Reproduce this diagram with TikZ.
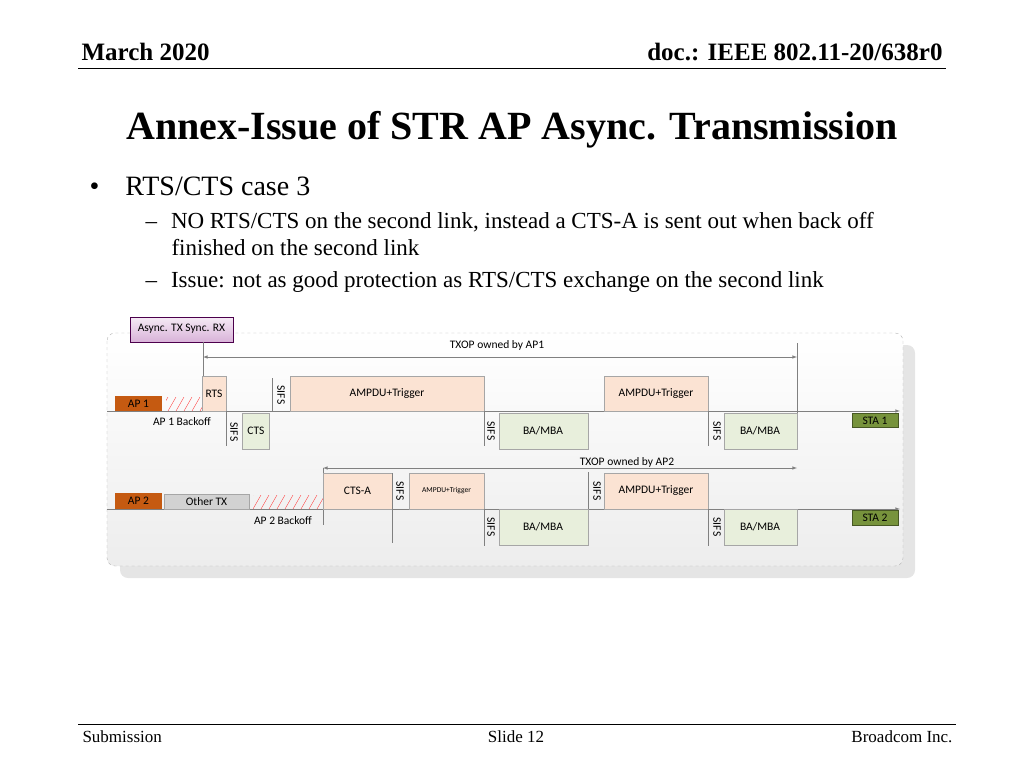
\documentclass[tikz,border=0pt]{standalone}
\usepackage{fontspec}
\setmainfont{Liberation Serif}
\newfontfamily\diafont{Carlito}
\definecolor{apcol}{HTML}{C55A11}
\definecolor{stacol}{HTML}{77933C}
\definecolor{txcol}{HTML}{FBE3D3}
\definecolor{rxcol}{HTML}{E8EFDC}
\definecolor{framegray}{HTML}{EDEDED}
\tikzset{
  frm/.style={draw=gray!70, line width=0.5pt},
  txbox/.style={frm, fill=txcol},
  rxbox/.style={frm, fill=rxcol},
  lbl/.style={font=\diafont\fontsize{11.5}{11.5}\selectfont, inner sep=0pt},
  sifs/.style={lbl, rotate=-90},
  tline/.style={draw=gray, line width=0.6pt},
}
\begin{document}
\begin{tikzpicture}[x=1pt,y=-1pt]
  \useasboundingbox (0,0) rectangle (1024,768);
  % header and footer
  \node[anchor=west, font=\bfseries\fontsize{25}{25}\selectfont] (month) at (78,52) {March 2020};
  \node[anchor=east, font=\bfseries\fontsize{25}{25}\selectfont] (doc) at (946,52) {doc.: IEEE 802.11-20/638r0};
  \draw[line width=0.8pt] (78,68) -- (946,68);
  \node[font=\bfseries\fontsize{40}{40}\selectfont] (title) at (512,130) {Annex-Issue of STR AP Async. Transmission};
  \node[anchor=west, font=\fontsize{28}{28}\selectfont] (b1) at (86,186) {\textbullet\hspace{26pt}RTS/CTS case 3};
  \node[anchor=west, font=\fontsize{23}{23}\selectfont] (b2) at (142,222) {--\hspace{14pt}NO RTS/CTS on the second link, instead a CTS-A is sent out when back off};
  \node[anchor=west, font=\fontsize{23}{23}\selectfont] (b3) at (168,248) {finished on the second link};
  \node[anchor=west, font=\fontsize{23}{23}\selectfont] (b4) at (142,282) {--\hspace{14pt}Issue: not as good protection as RTS/CTS exchange on the second link};
  \draw[line width=0.8pt] (78,724) -- (956,724);
  \node[anchor=west, font=\fontsize{17}{17}\selectfont] (sub) at (79,737) {Submission};
  \node[font=\fontsize{17}{17}\selectfont] (slide) at (516,737) {Slide 12};
  \node[anchor=east, font=\fontsize{17}{17}\selectfont] (corp) at (956,737) {Broadcom Inc.};

  % frame
  \fill[gray!20, rounded corners=8pt] (120,345) rectangle (915,578);
  \draw[gray!60, dashed, top color=white, bottom color=framegray, rounded corners=8pt] (107,333) rectangle (903,566);
  \draw[frm, draw=violet!60!black, top color=violet!8, bottom color=violet!30] (130,317) rectangle (233,342);
  \node[lbl] (mode) at (181.5,329) {Async. TX Sync. RX};

  % link 1
  \draw[tline, -latex] (107,411) -- (900,411);
  \draw[tline] (203,342) -- (203,376);
  \draw[tline] (797,343) -- (797,449);
  \draw[tline, latex-latex] (203,357) -- (797,357);
  \node[lbl] (txop1) at (497,345) {TXOP owned by AP1};
  \fill[apcol] (115,396) rectangle (162,411);
  \node[lbl] (ap1) at (138.5,404) {AP 1};
  \begin{scope}
    \clip (166,397) rectangle (202,411);
    \foreach \x in {160,168,...,210} \draw[red!70] (\x,411) -- (\x+8,397);
  \end{scope}
  \node[lbl] (bo1) at (182,422) {AP 1 Backoff};
  \draw[txbox] (202,376) rectangle (226,411); \node[lbl] (rts) at (214,394) {RTS};
  \draw[tline] (226,411) -- (226,446); \node[sifs] (s1) at (234,432) {SIFS};
  \draw[rxbox] (242,413) rectangle (269,449); \node[lbl] (cts) at (256,431) {CTS};
  \draw[tline] (272,378) -- (272,411); \node[sifs] (s2) at (281,395) {SIFS};
  \draw[txbox] (290,376) rectangle (484,411); \node[lbl] (ampdu1) at (387,394) {AMPDU+Trigger};
  \draw[tline] (484,411) -- (484,446); \node[sifs] (s3) at (491,431) {SIFS};
  \draw[rxbox] (499,413) rectangle (588,449); \node[lbl] (ba1) at (543,431) {BA/MBA};
  \draw[txbox] (604,376) rectangle (708,411); \node[lbl] (ampdu2) at (656,394) {AMPDU+Trigger};
  \draw[tline] (708,411) -- (708,446); \node[sifs] (s4) at (717,431) {SIFS};
  \draw[rxbox] (724,413) rectangle (797,449); \node[lbl] (ba2) at (760,431) {BA/MBA};
  \fill[stacol] (852,413) rectangle (898,427); \draw[stacol!60!black] (852,413) rectangle (898,427);
  \node[lbl] (sta1) at (875,420.5) {STA 1};

  % link 2
  \draw[tline, -latex] (107,509) -- (900,509);
  \draw[tline] (323,468) -- (323,525);
  \draw[tline] (588,472) -- (588,509);
  \draw[tline, latex-latex] (323,468) -- (797,468);
  \node[lbl] (txop2) at (627,462) {TXOP owned by AP2};
  \fill[apcol] (115,493) rectangle (162,509);
  \node[lbl] (ap2) at (138.5,501) {AP 2};
  \draw[frm, fill=gray!35] (164,494) rectangle (249,509); \node[lbl] (other) at (206.5,502) {Other TX};
  \begin{scope}
    \clip (253,495) rectangle (323,509);
    \foreach \x in {245,253,...,330} \draw[red!70] (\x,509) -- (\x+8,495);
  \end{scope}
  \node[lbl] (bo2) at (283,521) {AP 2 Backoff};
  \draw[txbox] (323,473) rectangle (392,509); \node[lbl] (ctsa) at (357.5,491) {CTS-A};
  \draw[tline] (392,473) -- (392,543); \node[sifs] (s5) at (400,491) {SIFS};
  \draw[txbox] (409,473) rectangle (484,509);
  \node[lbl, font=\diafont\fontsize{7.5}{7.5}\selectfont] (ampdu3) at (446.5,491) {AMPDU+Trigger};
  \draw[tline] (484,509) -- (484,546); \node[sifs] (s6) at (491,527) {SIFS};
  \draw[rxbox] (499,509) rectangle (588,545); \node[lbl] (ba3) at (543,527) {BA/MBA};
  \node[sifs] (s7) at (597,491) {SIFS};
  \draw[txbox] (604,473) rectangle (708,509); \node[lbl] (ampdu4) at (656,491) {AMPDU+Trigger};
  \draw[tline] (708,509) -- (708,546); \node[sifs] (s8) at (717,527) {SIFS};
  \draw[rxbox] (724,509) rectangle (797,545); \node[lbl] (ba4) at (760,527) {BA/MBA};
  \fill[stacol] (852,510) rectangle (898,525); \draw[stacol!60!black] (852,510) rectangle (898,525);
  \node[lbl] (sta2) at (875,517.5) {STA 2};
\end{tikzpicture}
\end{document}
